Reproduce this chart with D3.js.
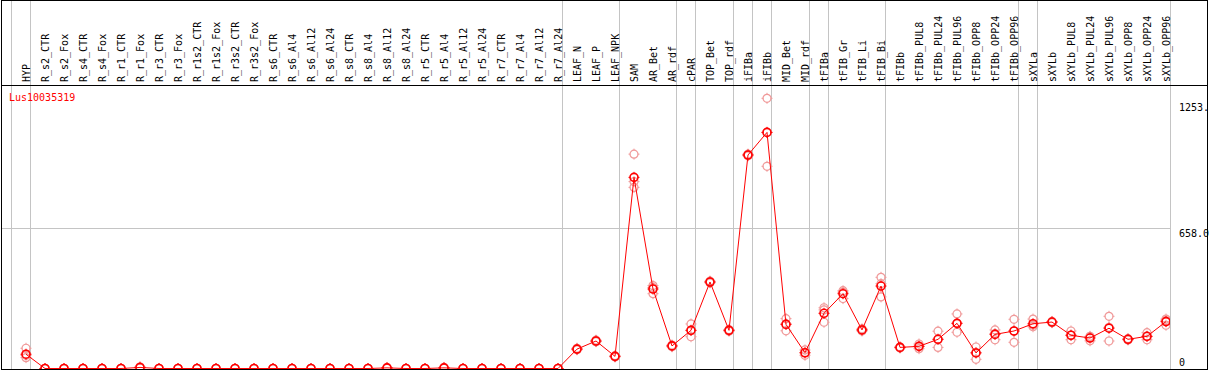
<!DOCTYPE html>
<html>
<head>
<meta charset="utf-8">
<script src="https://cdn.jsdelivr.net/npm/d3@7"></script>
<style>
  body { margin: 0; background: #fff; }
  text { font-family: "DejaVu Sans Mono", monospace; font-size: 10px; }
</style>
</head>
<body>
<div id="chart"></div>
<script>
// chart data
const geneName = 'Lus10035319';
const samples = ['HYP', 'R_s2_CTR', 'R_s2_Fox', 'R_s4_CTR', 'R_s4_Fox', 'R_r1_CTR', 'R_r1_Fox',
  'R_r3_CTR', 'R_r3_Fox', 'R_r1s2_CTR', 'R_r1s2_Fox', 'R_r3s2_CTR', 'R_r3s2_Fox', 'R_s6_CTR',
  'R_s6_Al4', 'R_s6_Al12', 'R_s6_Al24', 'R_s8_CTR', 'R_s8_Al4', 'R_s8_Al12', 'R_s8_Al24',
  'R_r5_CTR', 'R_r5_Al4', 'R_r5_Al12', 'R_r5_Al24', 'R_r7_CTR', 'R_r7_Al4', 'R_r7_Al12',
  'R_r7_Al24', 'LEAF_N', 'LEAF_P', 'LEAF_NPK', 'SAM', 'AR_Bet', 'AR_rdf', 'cPAR', 'TOP_Bet',
  'TOP_rdf', 'iFIBa', 'iFIBb', 'MID_Bet', 'MID_rdf', 'tFIBa', 'tFIB_Gr', 'tFIB_Li', 'tFIB_Bi',
  'tFIBb', 'tFIBb_PUL8', 'tFIBb_PUL24', 'tFIBb_PUL96', 'tFIBb_OPP8', 'tFIBb_OPP24', 'tFIBb_OPP96',
  'sXYLa', 'sXYLb', 'sXYLb_PUL8', 'sXYLb_PUL24', 'sXYLb_PUL96', 'sXYLb_OPP8', 'sXYLb_OPP24',
  'sXYLb_OPP96'];
const means = [67, 0, 0, 0, 0, 0, 5, 0, 0, 0, 0, 0, 0, 0, 0, 0, 0, 0, 0, 3, 0, 0, 3, 0, 0, 0, 0, 0, 0,
  91, 129, 57, 897, 373, 106, 179, 406, 179, 1002, 1108, 207, 74, 259, 351, 181, 387,
  99, 104, 137, 212, 73, 160, 176, 210, 218, 156, 143, 189, 137, 151, 220];
const rep1 = [95, 0, 0, 0, 0, 0, 8, 0, 0, 0, 0, 0, 0, 0, 0, 0, 0, 0, 0, 5, 0, 0, 5, 0, 0, 0, 0, 0, 0,
  95, 133, 60, 1006, 389, 110, 209, 410, 183, 1006, 1268, 234, 87, 285, 365, 186, 428,
  102, 115, 175, 256, 101, 181, 231, 232, 221, 176, 151, 245, 140, 168, 232];
const rep2 = [51, 0, 0, 0, 0, 0, 3, 0, 0, 0, 0, 0, 0, 0, 0, 0, 0, 0, 0, 2, 0, 0, 2, 0, 0, 0, 0, 0, 0,
  88, 126, 54, 850, 351, 102, 149, 402, 175, 998, 949, 177, 62, 217, 328, 176, 336,
  96, 93, 99, 170, 43, 135, 123, 196, 215, 135, 130, 129, 134, 135, 203];
const rep3 = [62, 0, 0, 0, 0, 0, 4, 0, 0, 0, 0, 0, 0, 0, 0, 0, 0, 0, 0, 2, 0, 0, 2, 0, 0, 0, 0, 0, 0,
  91, 128, 57, 877, 380, 106, 179, 406, 179, 1002, 1108, 210, 74, 275, 358, 181, 398,
  99, 104, 137, 212, 75, 164, 176, 203, 218, 156, 148, 193, 137, 150, 225];
// last sample index of each group (separator drawn after it)
const groupEnds = [-1, 0, 28, 31, 34, 35, 37, 38, 39, 41, 42, 45, 52, 53, 60];
const tickValues = [0, 658, 1253];
const tickLabels = ['0', '658.0', '1253.'];

const svgWidth = 1209;
const svgHeight = 370;
const headerBottom = 85;
const plotBottom = 369;
const plotRight = 1170;

const svg = d3.select('#chart').append('svg')
  .attr('width', svgWidth)
  .attr('height', svgHeight);

const xScale = d3.scaleLinear().domain([0, samples.length - 1]).range([26, 1166]);
const yScale = d3.scaleLinear().domain([0, 1253]).range([368.5, 101.5]);

// grid: vertical group separators
svg.append('g').selectAll('line')
  .data(groupEnds)
  .enter()
  .append('line')
  .attr('x1', d => Math.floor(xScale(d) + 4.7) + 0.5)
  .attr('x2', d => Math.floor(xScale(d) + 4.7) + 0.5)
  .attr('y1', 0)
  .attr('y2', plotBottom)
  .attr('stroke', '#c4c4c4');

// horizontal grid at middle tick
svg.append('line')
  .attr('x1', 1)
  .attr('x2', plotRight)
  .attr('y1', Math.round(yScale(658)) + 0.5)
  .attr('y2', Math.round(yScale(658)) + 0.5)
  .attr('stroke', '#c4c4c4');

// frame
svg.append('rect')
  .attr('x', 1.5).attr('y', 0.5)
  .attr('width', 1206).attr('height', plotBottom)
  .attr('fill', 'none')
  .attr('stroke', '#000');
svg.append('line')
  .attr('x1', 1).attr('x2', 1208)
  .attr('y1', headerBottom + 0.5).attr('y2', headerBottom + 0.5)
  .attr('stroke', '#000');

// rotated sample labels
svg.append('g').selectAll('text')
  .data(samples)
  .enter()
  .append('text')
  .attr('transform', (d, i) => `translate(${xScale(i) + 4}, 82) rotate(-90)`)
  .attr('fill', '#000')
  .text(d => d);

// right-hand value labels
const yAxis = svg.append('g')
  .attr('transform', `translate(1178, 0)`)
  .call(d3.axisRight(yScale).tickValues(tickValues).tickSize(0).tickFormat((d, i) => tickLabels[i]));
yAxis.select('.domain').remove();
yAxis.selectAll('text')
  .attr('x', 1)
  .attr('dy', null)
  .attr('y', d => d === 0 ? -3 : 8.5)
  .attr('fill', '#000')
  .style('font-family', '"DejaVu Sans Mono", monospace')
  .style('font-size', '10px');

// title
svg.append('text')
  .attr('x', 9)
  .attr('y', 100.5)
  .attr('fill', '#ff0000')
  .text(geneName);

// plot area with clipping
svg.append('clipPath').attr('id', 'plotClip')
  .append('rect')
  .attr('x', 2).attr('y', headerBottom + 1)
  .attr('width', plotRight - 2).attr('height', plotBottom - headerBottom - 1);
const plot = svg.append('g').attr('clip-path', 'url(#plotClip)');

// marker: circle with four little ticks
const drawMarker = (sel, color, width) => {
  sel.append('circle')
    .attr('r', 4)
    .attr('fill', 'none')
    .attr('stroke', color)
    .attr('stroke-width', width);
  sel.append('path')
    .attr('d', 'M0,-5.5V-3.5M0,3.5V5.5M-5.5,0H-3.5M3.5,0H5.5')
    .attr('stroke', color)
    .attr('stroke-width', 1);
};

// replicate points
const replicates = [];
[rep1, rep2, rep3].forEach(rep => rep.forEach((v, i) => replicates.push({ i: i, v: v })));
const repGroup = plot.selectAll('.rep')
  .data(replicates)
  .enter()
  .append('g')
  .classed('rep', true)
  .attr('transform', d => `translate(${xScale(d.i)}, ${yScale(d.v)})`);
drawMarker(repGroup, '#f09a9a', 1.2);

// mean line
const line = d3.line()
  .x((d, i) => xScale(i))
  .y(d => yScale(d));
plot.append('path')
  .datum(means)
  .attr('d', line)
  .attr('fill', 'none')
  .attr('stroke', '#ff0000')
  .attr('stroke-width', 1);

// mean points
const meanGroup = plot.selectAll('.mean')
  .data(means)
  .enter()
  .append('g')
  .classed('mean', true)
  .attr('transform', (d, i) => `translate(${xScale(i)}, ${yScale(d)})`);
drawMarker(meanGroup, '#ff0000', 1.6);
</script>
</body>
</html>
